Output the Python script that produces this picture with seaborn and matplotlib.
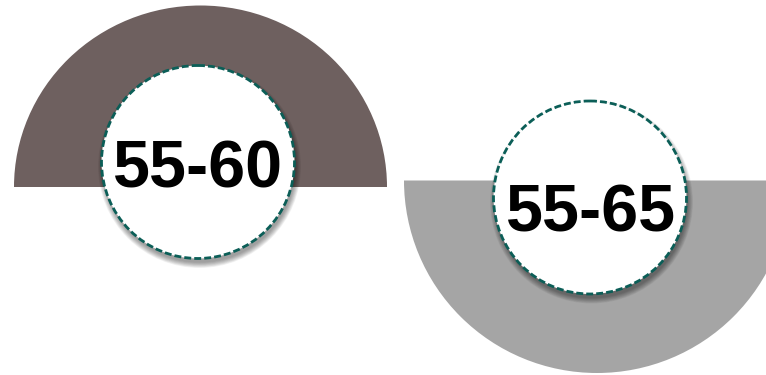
import numpy as np
import seaborn as sns
import matplotlib.pyplot as plt
from matplotlib.patches import Wedge, Circle
from matplotlib.transforms import Affine2D

sns.set_style("white")
plt.rcParams['font.family'] = ['Liberation Sans', 'DejaVu Sans']

# chart content
labels = ["55-60", "55-65"]
arc_colors = ["#6e605f", "#a5a5a5"]
halves = ["top", "bottom"]

fig = plt.figure(figsize=(7.66, 3.75), dpi=100)
ax = fig.add_axes([0, 0, 1, 1])
ax.set_xlim(0, 766)
ax.set_ylim(375, 0)
ax.axis("off")

# layout in pixel units (y grows downward)
arc_centres = [(200.5, 187), (597, 180.5)]
arc_rx = [186.5, 193]
arc_ry = [181.5, 192.5]
circ_centres = [(198, 162), (590, 197.5)]
circ_r = 96.5
text_base = [188, 232]
text_x = [198, 591]

for i, lab in enumerate(labels):
    cx, cy = arc_centres[i]
    # y axis is inverted, so angles 180..360 draw the upper half on screen
    if halves[i] == "top":
        t1, t2 = 180, 360
    else:
        t1, t2 = 0, 180
    tr = Affine2D().scale(arc_rx[i], arc_ry[i]).translate(cx, cy) + ax.transData
    ax.add_patch(Wedge((0, 0), 1, t1, t2, width=0.55, transform=tr,
                       facecolor=arc_colors[i], edgecolor="none", zorder=1))

    px, py = circ_centres[i]
    # soft drop shadow
    for k in range(10):
        ax.add_patch(Circle((px + 1.5, py + 4.5), circ_r + 5 - k * 0.6,
                            facecolor="black", edgecolor="none",
                            alpha=0.045, zorder=2))
    ax.add_patch(Circle((px, py), circ_r, facecolor="white",
                        edgecolor="#0b5e57", lw=2.0,
                        linestyle=(0, (2.5, 1.1)), zorder=3))
    ax.text(text_x[i], text_base[i], lab, ha="center", va="baseline",
            fontsize=48, fontweight="bold", color="black", zorder=4)

fig.savefig("out.png", dpi=100)
